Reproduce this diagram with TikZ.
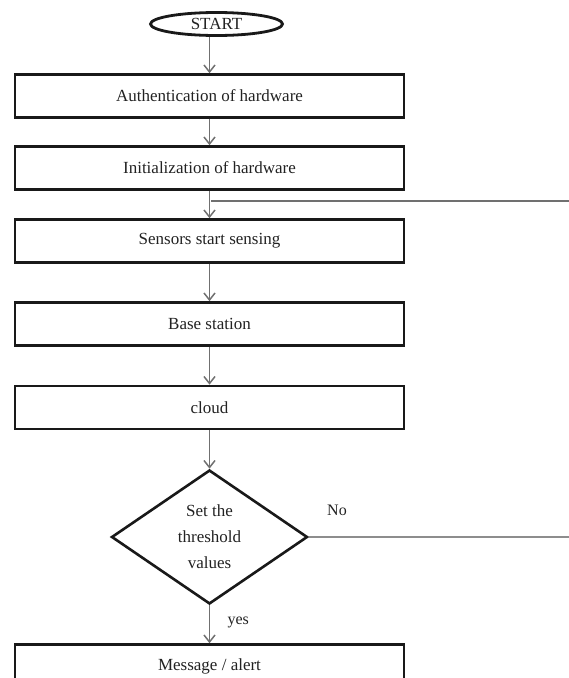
\documentclass[tikz,border=0pt]{standalone}
\usepackage{fontspec}
\setmainfont{Liberation Serif}
\usetikzlibrary{shapes.geometric,arrows.meta}
\definecolor{linegray}{HTML}{707070}
\definecolor{txt}{HTML}{222222}
\begin{document}
\begin{tikzpicture}[x=1pt,y=-1pt,
  every node/.style={font=\fontsize{17}{26}\selectfont, text=txt},
  stepbox/.style={draw=black!90, line width=2.6pt, rectangle, minimum width=389pt, minimum height=43pt, inner sep=0pt},
  startbox/.style={draw=black!90, line width=2.8pt, ellipse, minimum width=132pt, minimum height=23pt, inner sep=0pt},
  decbox/.style={draw=black!90, line width=2.6pt, diamond, minimum width=196pt, minimum height=134pt, inner sep=0pt, align=center},
  flow/.style={draw=linegray, line width=1.5pt, -{Straight Barb[length=7pt,width=11pt]}},
  back/.style={draw=linegray, line width=1.4pt},
  lbl/.style={font=\fontsize{16}{18}\selectfont}
]
\useasboundingbox (0,0) rectangle (569,678);
\clip (0,0) rectangle (569,678);
\node[startbox] (start) at (216.5,24) {START};
\node[stepbox] (b1) at (209.5,96) {Authentication of hardware};
\node[stepbox] (b2) at (209.5,168) {Initialization of hardware};
\node[stepbox] (b3) at (209.5,241) {Sensors start sensing};
\node[stepbox] (b4) at (209.5,324) {Base station};
\node[stepbox] (b5) at (209.5,407.5) {cloud};
\node[decbox] (d) at (209.5,537) {Set the\\threshold\\values};
\node[stepbox] (msg) at (209.5,666) {Message / alert};
\coordinate (fb) at (211,201);
\coordinate (corner) at (590,201);

\draw[flow] (b1.north |- start.south) -- (b1.north);
\draw[flow] (b1) -- (b2);
\draw[flow] (b2) -- (b3);
\draw[flow] (b3) -- (b4);
\draw[flow] (b4) -- (b5);
\draw[flow] (b5) -- (d);
\draw[flow] (d) -- node[lbl, right=14pt, pos=0.45] {yes} (msg);
\draw[draw=linegray!80, line width=2.2pt] (d.east) -- (corner |- d.east) -- (corner);
\draw[back] (corner) -- (fb);
\node[lbl] (no) at (337,510) {No};
\end{tikzpicture}
\end{document}
